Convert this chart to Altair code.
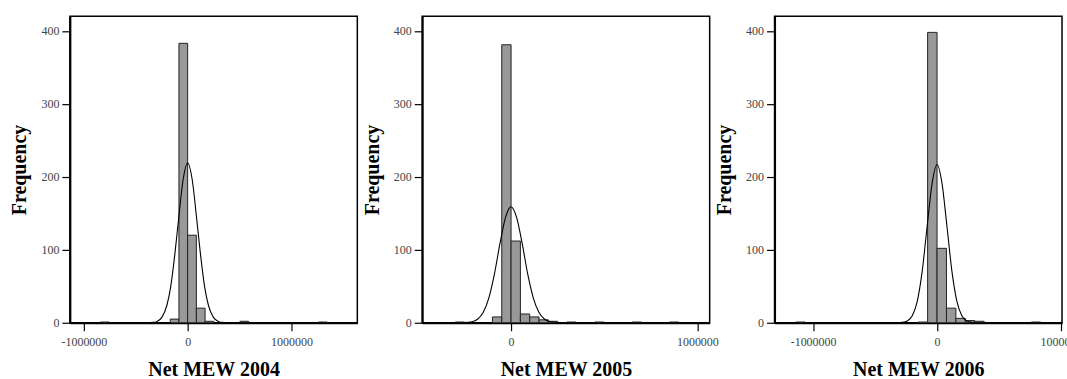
import altair as alt
import pandas as pd

# ---------------- data ----------------
# Net MEW 2004
bin_width_2004 = 84000
bin_start_2004 = [-840000, -168000, -84000, 0, 84000, 168000, 504000, 1260000]
count_2004 = [1, 5, 383, 120, 20, 2, 2, 1]
curve_x_2004 = [-1135000, -400000, -330000, -300000, -250000, -200000, -166000, -125000, -86000,
                -45000, 0, 45000, 86000, 125000, 166000, 200000, 250000, 300000, 330000, 400000, 1635000]
curve_y_2004 = [0, 0, 0.5, 1.5, 7, 24, 47, 92, 144, 195, 219, 195, 144, 92, 47, 24, 7, 1.5, 0.5, 0, 0]

# Net MEW 2005
bin_width_2005 = 50000
bin_start_2005 = [-300000, -100000, -50000, 0, 50000, 100000, 150000, 200000, 300000, 450000, 650000, 850000]
count_2005 = [1, 8, 381, 112, 12, 8, 4, 2, 1, 1, 1, 1]
curve_x_2005 = [-477000, -300000, -250000, -210000, -180000, -150000, -120000, -90000, -60000, -30000, 0,
                30000, 60000, 90000, 120000, 150000, 180000, 210000, 250000, 300000, 1066000]
curve_y_2005 = [0, 0, 0.2, 1.3, 4.8, 14, 33.5, 66, 108, 144, 159,
                144, 108, 66, 33.5, 14, 4.8, 1.3, 0.2, 0, 0]

# Net MEW 2006
bin_width_2006 = 76000
bin_start_2006 = [-1140000, -152000, -76000, 0, 76000, 152000, 228000, 304000, 760000]
count_2006 = [1, 1, 398, 102, 20, 6, 3, 2, 1]
curve_x_2006 = [-1311000, -320000, -280000, -240000, -200000, -160000, -120000, -80000, -40000, 0,
                40000, 80000, 120000, 160000, 200000, 240000, 280000, 320000, 1008000]
curve_y_2006 = [0, 0, 0.5, 2.4, 9.5, 29.4, 70.5, 132, 191, 217,
                191, 132, 70.5, 29.4, 9.5, 2.4, 0.5, 0, 0]

titles = ["Net MEW 2004", "Net MEW 2005", "Net MEW 2006"]
x_domains = [[-1135000, 1635000], [-477000, 1066000], [-1311000, 1008000]]
x_ticks = [[-1000000, 0, 1000000], [0, 1000000], [-1000000, 0, 1000000]]
y_domain = [0, 420]
y_ticks = [0, 100, 200, 300, 400]

FONT = "Liberation Serif"


def panel(starts, counts, width, cx, cy, xdom, xticks, title):
    bars = pd.DataFrame({"start": starts, "count": counts})
    bars["end"] = bars["start"] + width
    curve = pd.DataFrame({"x": cx, "y": cy})

    xscale = alt.Scale(domain=xdom, nice=False, zero=False)
    yscale = alt.Scale(domain=y_domain, nice=False)
    xaxis = alt.Axis(values=xticks, labelExpr="datum.value + ''", title=title, labelFlush=False)
    yaxis = alt.Axis(values=y_ticks, title="Frequency", labelFlush=False)

    b = alt.Chart(bars).mark_rect(fill="#999999", stroke="#222222", strokeWidth=1, clip=True).encode(
        x=alt.X("start:Q", scale=xscale, axis=xaxis),
        x2="end:Q",
        y=alt.Y("count:Q", scale=yscale, axis=yaxis),
        y2=alt.datum(0),
    )
    l = alt.Chart(curve).mark_line(color="black", strokeWidth=1.1, interpolate="monotone", clip=True).encode(
        x=alt.X("x:Q", scale=xscale),
        y=alt.Y("y:Q", scale=yscale),
    )
    return alt.layer(b, l).properties(width=288, height=307)


panels = [
    panel(bin_start_2004, count_2004, bin_width_2004, curve_x_2004, curve_y_2004, x_domains[0], x_ticks[0], titles[0]),
    panel(bin_start_2005, count_2005, bin_width_2005, curve_x_2005, curve_y_2005, x_domains[1], x_ticks[1], titles[1]),
    panel(bin_start_2006, count_2006, bin_width_2006, curve_x_2006, curve_y_2006, x_domains[2], x_ticks[2], titles[2]),
]

chart = alt.hconcat(*panels, spacing=65, bounds="flush").properties(
    padding={"left": 9, "top": 15, "right": -16, "bottom": 0},
    background="white",
).configure_view(
    stroke="black", strokeWidth=1.5
).configure_axis(
    grid=False,
    labelFont=FONT, labelFontSize=12, labelColor="#444444",
    titleFont=FONT, titleFontSize=20, titleFontWeight="bold", titleColor="black",
    domainColor="black", domainWidth=2, tickColor="black", tickWidth=1.2,
).configure_axisX(
    tickSize=8, labelPadding=6, titlePadding=12,
).configure_axisY(
    tickSize=8, labelPadding=3, titlePadding=11,
)

chart.save("out.html", embed_options={"renderer": "svg", "actions": False})
